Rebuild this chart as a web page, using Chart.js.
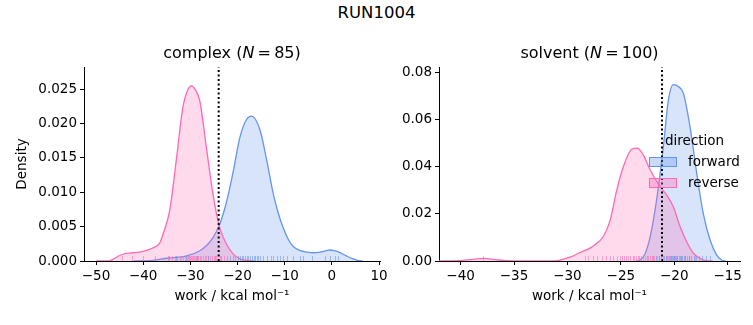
<!DOCTYPE html>
<html>
<head>
<meta charset="utf-8">
<script src="https://cdn.jsdelivr.net/npm/chart.js@4.4.1/dist/chart.umd.min.js"></script>
<style>
body{margin:0;background:#fff;width:753px;height:325px;position:relative;overflow:hidden;font-family:"DejaVu Sans",sans-serif;}
#sup{position:absolute;left:0;top:0;width:753px;text-align:center;font-size:16.5px;line-height:26px;color:#000;}
canvas{position:absolute;top:0;}
#cL{left:0;}
#cR{left:390px;}
</style>
</head>
<body>
<div id="sup">RUN1004</div>
<canvas id="cL" width="395" height="325"></canvas>
<canvas id="cR" width="363" height="325"></canvas>
<script>
// complex leg
const complexN = 85;
const complexXTicks = [-50, -40, -30, -20, -10, 0, 10];
const complexYTicks = [0, 0.005, 0.01, 0.015, 0.02, 0.025];
const complexCut = -24.0;
const complexFwdX = [-42, -38, -35, -31, -28, -26.5, -25.2, -23.8, -22.3, -20.9, -19.5, -18.1, -17, -15.2, -13.8, -12.4, -11.3, -10.3, -9.2, -8.2, -6.7, -5.3, -4, -2.5, -1.2, -0.4, 0.5, 1.5, 3.2, 4.5, 5.5, 6.5];
const complexFwdY = [0, 0.0001, 0.0004, 0.0007, 0.0015, 0.0023, 0.0034, 0.0053, 0.0087, 0.0131, 0.018, 0.0206, 0.0211, 0.019, 0.0146, 0.0097, 0.0068, 0.0048, 0.0031, 0.0021, 0.0015, 0.0013, 0.0012, 0.0013, 0.0015, 0.0016, 0.0015, 0.0013, 0.0007, 0.0003, 0.0001, 0];
const complexRevX = [-50, -47.5, -46.5, -45, -43.6, -42, -40.8, -39.5, -38, -36.5, -35.8, -34.4, -33, -31.6, -30.5, -29.8, -29, -28, -26.6, -25.2, -23.8, -22.3, -20.9, -19.5, -18, -16.5];
const complexRevY = [0, 0, 0.0002, 0.0008, 0.0011, 0.0012, 0.0013, 0.0015, 0.0019, 0.0026, 0.0039, 0.0073, 0.0146, 0.0223, 0.025, 0.0255, 0.025, 0.0233, 0.0165, 0.0097, 0.0049, 0.0024, 0.001, 0.0003, 0.0001, 0];
const complexFwdRug = [-34.5, -33.0, -31.0, -28.5, -26.2, -24.8, -23.5, -22.3, -21.6, -20.9, -20.5, -20.0, -19.5, -19.1, -18.8, -18.4, -18.1, -17.7, -17.4, -17.0, -16.6, -16.3, -15.9, -15.6, -15.3, -14.6, -13.8, -13.0, -12.4, -11.7, -11.0, -10.3, -9.6, -8.3, -6.8, -6.1, -4.3, -1.5, -0.4, 0.6, 1.4];
const complexRevRug = [-44.6, -42.4, -40.0, -37.5, -34.7, -33.9, -33.2, -32.8, -32.1, -31.9, -31.5, -31.2, -30.8, -30.6, -30.3, -30.1, -29.9, -29.7, -29.5, -29.3, -29.0, -28.8, -28.6, -28.3, -28.0, -27.7, -27.4, -27.0, -26.6, -26.3, -25.9, -25.5, -25.0, -24.5, -23.8, -22.9];

// solvent leg
const solventN = 100;
const solventXTicks = [-40, -35, -30, -25, -20, -15];
const solventYTicks = [0, 0.02, 0.04, 0.06, 0.08];
const solventCut = -21.15;
const solventFwdX = [-23.6, -23.21, -22.74, -22.27, -21.65, -21.02, -20.56, -20.09, -19.62, -19.15, -18.53, -17.9, -17.28, -16.65, -16.03, -15.56, -15.2];
const solventFwdY = [0, 0.0004, 0.003, 0.01, 0.026, 0.0486, 0.068, 0.0748, 0.074, 0.0712, 0.057, 0.0372, 0.02, 0.0089, 0.0025, 0.0004, 0];
const solventRevX = [-42, -39.75, -38.8, -37.8, -36.8, -35.7, -34, -31.5, -30.7, -29.76, -28.83, -28.2, -27.58, -26.64, -26.02, -25.39, -24.77, -23.99, -23.46, -22.9, -22.27, -21.34, -20.71, -20.09, -19.46, -18.84, -18.21, -17.59, -16.97, -16.4];
const solventRevY = [0, 0.0003, 0.0007, 0.0011, 0.0006, 0.0001, 0, 0, 0.0004, 0.0016, 0.0036, 0.0048, 0.0064, 0.0104, 0.017, 0.03, 0.04, 0.0474, 0.0479, 0.045, 0.0387, 0.0316, 0.028, 0.023, 0.0146, 0.0082, 0.0033, 0.0011, 0.0001, 0];
const solventFwdRug = [-22.6, -22.0, -21.7, -21.4, -21.2, -21.0, -20.8, -20.7, -20.5, -20.4, -20.3, -20.2, -20.1, -20.0, -19.9, -19.8, -19.7, -19.6, -19.5, -19.4, -19.3, -19.1, -19.0, -18.8, -18.6, -18.4, -18.2, -18.0, -17.7, -17.4, -17.0, -16.7];
const solventRevRug = [-37.9, -28.4, -28.1, -27.6, -27.2, -26.8, -26.4, -26.0, -25.7, -25.4, -25.1, -24.9, -24.7, -24.5, -24.3, -24.1, -23.9, -23.8, -23.6, -23.4, -23.3, -23.1, -22.9, -22.7, -22.5, -22.3, -22.1, -21.9, -21.6, -21.4, -21.1, -20.8, -20.6, -20.3, -20.0, -19.7, -19.4, -19.0, -18.6, -18.1];

const BLUE = '100,149,237', PINK = '255,105,180';
const FONT = { family: '"DejaVu Sans"', size: 13.5 };

const pts = (xs, ys) => xs.map((x, i) => ({ x, y: ys[i] }));
const fmtX = v => (v < 0 ? '\u2212' : '') + Math.abs(v);

const rugPlugin = {
  id: 'rug',
  afterDatasetsDraw(chart, args, o) {
    const { ctx, chartArea, scales } = chart;
    ctx.save(); ctx.lineWidth = 1;
    o.sets.forEach(s => {
      ctx.strokeStyle = s.color;
      s.values.forEach(v => {
        const px = Math.round(scales.x.getPixelForValue(v)) + 0.5;
        ctx.beginPath(); ctx.moveTo(px, chartArea.bottom); ctx.lineTo(px, chartArea.bottom - 5); ctx.stroke();
      });
    });
    ctx.restore();
  }
};

const titlePlugin = {
  id: 'panelTitle',
  afterDraw(chart, args, o) {
    const { ctx, chartArea } = chart;
    const parts = [[o.name + ' (', 'normal'], ['N', 'italic'], ['\u2009=\u2009' + o.n + ')', 'normal']];
    ctx.save(); ctx.fillStyle = '#000'; ctx.textBaseline = 'middle';
    let total = 0;
    parts.forEach(p => { ctx.font = p[1] + ' 16px "DejaVu Sans"'; p.w = ctx.measureText(p[0]).width; total += p.w; });
    let x = (chartArea.left + chartArea.right) / 2 - total / 2;
    parts.forEach(p => { ctx.font = p[1] + ' 16px "DejaVu Sans"'; ctx.fillText(p[0], x, 54); x += p.w; });
    ctx.restore();
  }
};

const legendPlugin = {
  id: 'dirLegend',
  afterDraw(chart, args, o) {
    if (!o.items) return;
    const ctx = chart.ctx;
    ctx.save(); ctx.font = '13.5px "DejaVu Sans"'; ctx.textBaseline = 'middle';
    ctx.fillStyle = '#000'; ctx.fillText(o.title, o.x + 16, o.y);
    o.items.forEach((it, i) => {
      const y = o.y + 21 + i * 21;
      ctx.fillStyle = 'rgba(' + it.rgb + ',0.35)'; ctx.fillRect(o.x, y - 5, 28, 10);
      ctx.strokeStyle = 'rgb(' + it.rgb + ')'; ctx.lineWidth = 1; ctx.strokeRect(o.x + 0.5, y - 4.5, 27, 9);
      ctx.fillStyle = '#000'; ctx.fillText(it.label, o.x + 39, y);
    });
    ctx.restore();
  }
};

function kde(label, data, rgb) {
  return { label, data, borderColor: 'rgb(' + rgb + ')', backgroundColor: 'rgba(' + rgb + ',0.25)',
    borderWidth: 1.3, fill: 'origin', pointRadius: 0, cubicInterpolationMode: 'monotone' };
}

function makeChart(id, c) {
  new Chart(document.getElementById(id), {
    type: 'line',
    data: { datasets: [
      { label: 'cut', data: [{ x: c.cut, y: 0 }, { x: c.cut, y: c.ymax }], borderColor: '#000', borderWidth: 2,
        borderDash: [2, 2.5], pointRadius: 0, fill: false },
      kde('reverse', pts(c.revX, c.revY), PINK),
      kde('forward', pts(c.fwdX, c.fwdY), BLUE)
    ]},
    options: {
      responsive: false, animation: false, events: [],
      layout: { padding: c.pad },
      plugins: { legend: { display: false }, tooltip: { enabled: false },
        rug: { sets: [{ values: c.revRug, color: 'rgba(' + PINK + ',0.55)' }, { values: c.fwdRug, color: 'rgba(' + BLUE + ',0.55)' }] },
        panelTitle: { name: c.name, n: c.n },
        dirLegend: c.legend || {} },
      scales: {
        x: { type: 'linear', min: c.xmin, max: c.xmax,
          afterBuildTicks: s => { s.ticks = c.xticks.map(v => ({ value: v })); },
          afterFit: s => { s.height = 64; },
          grid: { drawOnChartArea: false, tickLength: 4, color: '#000' }, border: { color: '#000' },
          ticks: { color: '#000', font: FONT, padding: 3, maxRotation: 0, autoSkip: false, callback: v => fmtX(v) },
          title: { display: true, text: 'work / kcal mol\u207b\u00b9', color: '#000', font: FONT, padding: { top: 0, bottom: 20 } } },
        y: { type: 'linear', min: 0, max: c.ymax,
          afterBuildTicks: s => { s.ticks = c.yticks.map(v => ({ value: v })); },
          afterFit: s => { s.width = c.yw; },
          grid: { drawOnChartArea: false, tickLength: 4, color: '#000' }, border: { color: '#000' },
          ticks: { color: '#000', font: FONT, padding: 3, autoSkip: false, callback: v => v.toFixed(c.dec) },
          title: { display: !!c.ytitle, text: c.ytitle, color: '#000', font: FONT, padding: { top: 14 } } }
      }
    },
    plugins: [rugPlugin, titlePlugin, legendPlugin]
  });
}

makeChart('cL', { name: 'complex', n: complexN, cut: complexCut, xmin: -52.55, xmax: 10.2, ymax: 0.02825,
  xticks: complexXTicks, yticks: complexYTicks, dec: 3, yw: 84, ytitle: 'Density',
  fwdX: complexFwdX, fwdY: complexFwdY, revX: complexRevX, revY: complexRevY, fwdRug: complexFwdRug, revRug: complexRevRug,
  pad: { top: 67, right: 15, bottom: 0, left: 0 } });

makeChart('cR', { name: 'solvent', n: solventN, cut: solventCut, xmin: -42.02, xmax: -13.85, ymax: 0.0823,
  xticks: solventXTicks, yticks: solventYTicks, dec: 2, yw: 49, ytitle: '',
  fwdX: solventFwdX, fwdY: solventFwdY, revX: solventRevX, revY: solventRevY, fwdRug: solventFwdRug, revRug: solventRevRug,
  pad: { top: 67, right: 13, bottom: 0, left: 0 },
  legend: { title: 'direction', x: 259, y: 141, items: [{ label: 'forward', rgb: BLUE }, { label: 'reverse', rgb: PINK }] } });
</script>
</body>
</html>
